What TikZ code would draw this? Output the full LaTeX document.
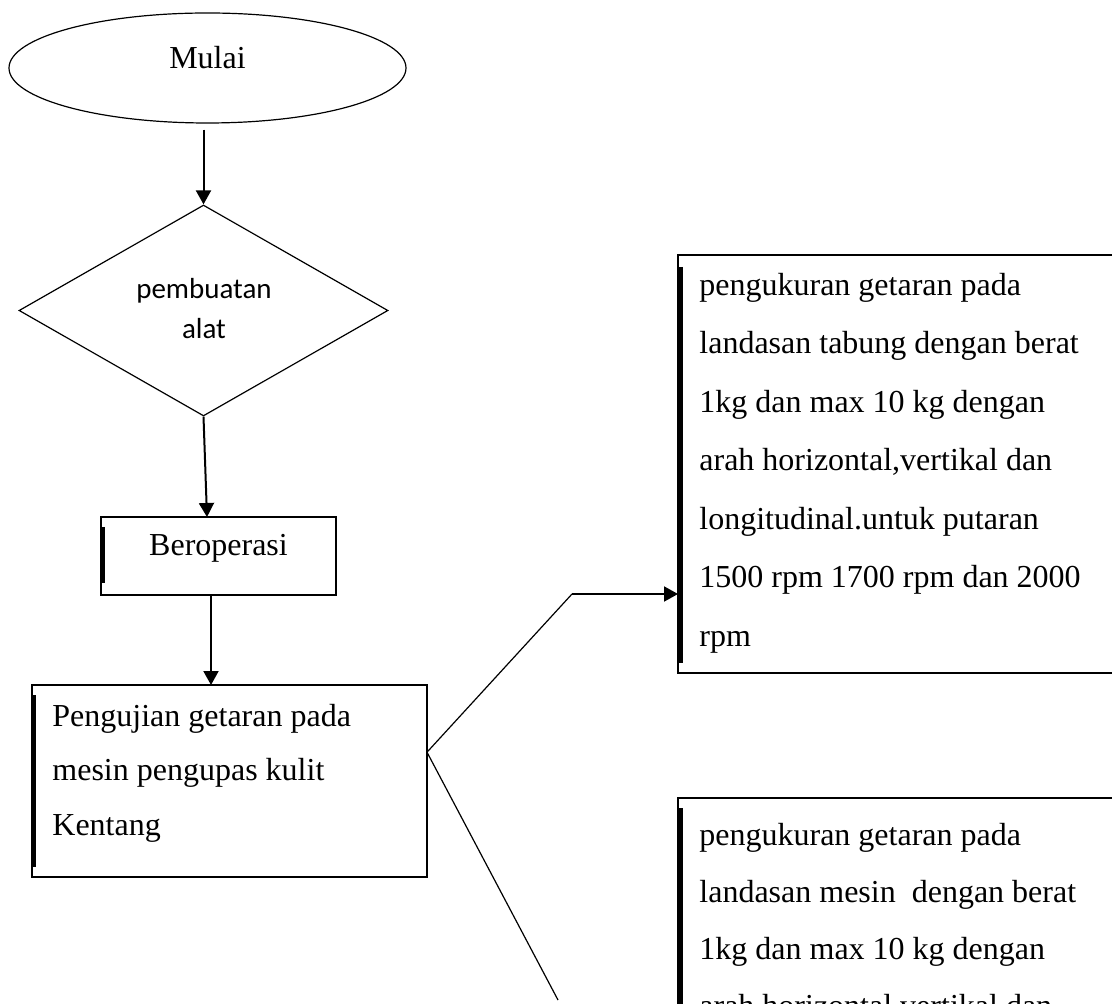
\documentclass[tikz,border=0pt]{standalone}
\usepackage{fontspec}
\setmainfont{Liberation Serif}
\newfontfamily\calibri{Carlito}
\usetikzlibrary{calc, positioning, arrows.meta, shapes.geometric}

\begin{document}
\begin{tikzpicture}[
    x=0.5pt, y=-0.5pt,
    >={Triangle[length=7pt, width=7.5pt]},
    start/.style={draw, ellipse, line width=0.6pt, inner sep=0pt, minimum width=198.5pt, minimum height=55pt},
    decision/.style={draw, diamond, line width=0.6pt, inner sep=0pt, minimum width=184.5pt, minimum height=105.5pt},
    flowbox/.style={draw, rectangle, line width=0.9pt, inner sep=0pt, outer sep=0pt},
    boxtext/.style={anchor=north west, inner sep=0pt, align=left},
    arr/.style={->, line width=1pt},
    branch/.style={line width=0.6pt},
    bar/.style={line width=2pt}
]
    \useasboundingbox (0,0) rectangle (1112,1004);
    \clip (0,0) rectangle (1112,1004);

    % Mulai
    \node[start] (mulai) at (207.5,68) {};
    \node[font=\fontsize{16}{20}\selectfont] (mulaitxt) at ([yshift=5pt]mulai.center) {Mulai};

    % pembuatan alat
    \node[decision] (alat) at (203.5,310.5) {};
    \node[font=\calibri\fontsize{14.5}{20}\selectfont, align=center] (alattxt) at (204,309) {pembuatan\\alat};

    % Beroperasi
    \node[flowbox, minimum width=117.5pt, minimum height=39pt] (operasi) at (218.5,556) {};
    \node[font=\fontsize{16}{20}\selectfont] (operasitxt) at ([yshift=4pt]operasi.center) {Beroperasi};
    \draw[bar] ([xshift=1pt,yshift=-5pt]operasi.north west) -- ([xshift=1pt,yshift=6pt]operasi.south west);

    % Pengujian
    \node[flowbox, minimum width=197.5pt, minimum height=96pt] (uji) at (229.5,781) {};
    \node[boxtext, font=\fontsize{16}{27.25}\selectfont] (ujitxt) at (52,703.5)
        {Pengujian getaran pada\\mesin pengupas kulit\\Kentang};
    \draw[bar] ([xshift=1pt,yshift=-5pt]uji.north west) -- ([xshift=1pt,yshift=5pt]uji.south west);

    % landasan tabung
    \node[flowbox, minimum width=219pt, minimum height=209pt] (tabung) at (897,464) {};
    \node[boxtext, font=\fontsize{16}{29.25}\selectfont] (tabungtxt) at (699,272.5)
        {pengukuran getaran pada\\landasan tabung dengan berat\\1kg dan max 10 kg dengan\\arah horizontal,vertikal dan\\longitudinal.untuk putaran\\1500 rpm 1700 rpm dan 2000\\rpm};
    \draw[bar] ([xshift=1.5pt,yshift=-6pt]tabung.north west) -- ([xshift=1.5pt,yshift=5pt]tabung.south west);

    % landasan mesin
    \node[flowbox, minimum width=219pt, minimum height=151pt] (mesin) at (897,949) {};
    \node[boxtext, font=\fontsize{16}{28.5}\selectfont] (mesintxt) at (699,822.5)
        {pengukuran getaran pada\\landasan mesin\ \ dengan berat\\1kg dan max 10 kg dengan\\arah horizontal,vertikal dan};
    \draw[bar] ([xshift=1.5pt,yshift=-5pt]mesin.north west) -- ([xshift=1.5pt,yshift=-5pt]mesin.north west |- 0,1004);

    % arrows
    \draw[arr] ([yshift=-3pt]mulai.south -| alat.north) -- (alat.north);
    \draw[arr] (alat.south) -- ($(operasi.north)+(-11.5,0)$);
    \coordinate (turun) at ($(operasi.south)+(-7.5,0)$);
    \draw[arr] (turun) -- (turun |- uji.north);

    % branches
    \coordinate (apex) at ($(uji.north east)!0.35!(uji.south east)$);
    \coordinate (bend) at (572,594);
    \coordinate (ujung) at (558,1000);
    \draw[branch] (apex) -- (bend);
    \draw[arr] (bend) -- (bend -| tabung.west);
    \draw[branch] (apex) -- (ujung);

\end{tikzpicture}
\end{document}
